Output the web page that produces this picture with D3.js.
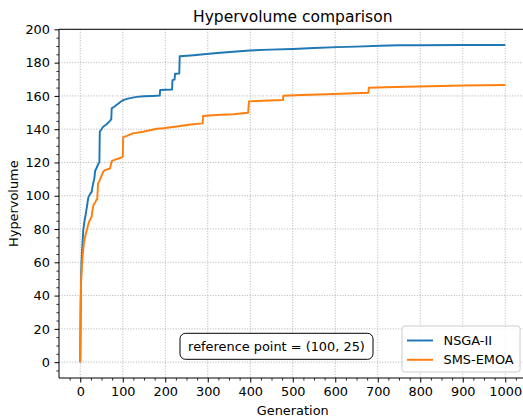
<!DOCTYPE html>
<html>
<head>
<meta charset="utf-8">
<script src="https://cdn.jsdelivr.net/npm/d3@7"></script>
<style>
  html, body { margin: 0; padding: 0; background: #fff; }
  svg { display: block; font-family: "DejaVu Sans", sans-serif; }
</style>
</head>
<body>
<svg id="chart" width="523" height="418"></svg>
<script>
// ---------------- data ----------------
const title = "Hypervolume comparison";
const xLabel = "Generation";
const yLabel = "Hypervolume";
const seriesNames = ["NSGA-II", "SMS-EMOA"];
const seriesColors = ["#1f77b4", "#ff7f0e"];
const annotationText = "reference point = (100, 25)";

const xTicks = [0, 100, 200, 300, 400, 500, 600, 700, 800, 900, 1000];
const yTicks = [0, 20, 40, 60, 80, 100, 120, 140, 160, 180, 200];

const nsgaGen = [0, 1, 2, 3, 5, 7, 10, 13, 16, 19, 23, 27, 30, 33, 35, 39, 42, 45, 46, 50, 54, 62, 70, 73, 74, 80, 85, 90, 95, 101, 110, 120, 133, 150, 170, 187, 188, 216, 217, 222, 223, 233, 234, 260, 297, 330, 360, 399, 446, 500, 550, 604, 650, 705, 750, 799, 900, 1000];
const nsgaHV = [0, 35, 50, 60, 70, 79, 85, 89, 94, 99, 101, 102.5, 107, 110, 115, 117, 119, 120, 138.5, 140, 141.5, 143, 145, 146, 152.5, 153.5, 154.5, 155.5, 156.5, 157.5, 158.2, 158.8, 159.4, 159.8, 160, 160.2, 163.5, 163.8, 169.5, 169.8, 173.3, 173.5, 183.8, 184.3, 185.2, 185.9, 186.5, 187.3, 187.8, 188.2, 188.8, 189.3, 189.6, 190.1, 190.4, 190.5, 190.6, 190.6];

const smsGen = [0, 1, 2, 4, 6, 8, 11, 15, 18, 21, 25, 27, 28, 31, 35, 38, 40, 42, 46, 50, 54, 58, 70, 74, 85, 93, 100, 101, 110, 124, 148, 180, 195, 235, 260, 288, 289, 320, 360, 395, 397, 430, 477, 478, 520, 580, 630, 678, 679, 720, 768, 850, 901, 1000];
const smsHV = [0, 30, 49, 58, 65, 70, 75, 79, 82, 84.5, 86.5, 87.5, 90, 94.4, 96, 97.4, 98, 107.4, 109.4, 112, 114.4, 115.4, 116.4, 120.8, 122, 122.5, 123.5, 135.2, 136, 137.5, 138.5, 140.3, 140.6, 141.9, 142.8, 143.5, 147.9, 148.5, 149, 149.9, 156.7, 157.1, 157.5, 160.1, 160.5, 161, 161.4, 161.9, 164.9, 165.2, 165.5, 166, 166.3, 166.5];

// ---------------- layout ----------------
const svg = d3.select("#chart");
const L = 59, R = 526.5, T = 29.3, B = 378;
const fs = 12.9;

const x = d3.scaleLinear().domain([-50, 1050]).range([L, R]);
const y = d3.scaleLinear().domain([-9.53, 200.03]).range([B, T]);

svg.append("defs").append("clipPath").attr("id", "clip")
  .append("rect").attr("x", L).attr("y", T).attr("width", R - L).attr("height", B - T);

// grid
const grid = svg.append("g");
grid.selectAll("line.gx").data(xTicks).enter().append("line")
  .attr("x1", d => x(d)).attr("x2", d => x(d)).attr("y1", T).attr("y2", B)
  .attr("stroke", "#b0b0b0").attr("stroke-width", 1).attr("stroke-dasharray", "1,1.65");
grid.selectAll("line.gy").data(yTicks).enter().append("line")
  .attr("x1", L).attr("x2", R).attr("y1", d => y(d)).attr("y2", d => y(d))
  .attr("stroke", "#b0b0b0").attr("stroke-width", 1).attr("stroke-dasharray", "1,1.65");

// lines
const series = [
  nsgaGen.map((g, i) => [g, nsgaHV[i]]),
  smsGen.map((g, i) => [g, smsHV[i]])
];
const line = d3.line().x(d => x(d[0])).y(d => y(d[1]));
const plot = svg.append("g").attr("clip-path", "url(#clip)");
series.forEach((s, i) => {
  plot.append("path").datum(s).attr("d", line)
    .attr("fill", "none").attr("stroke", seriesColors[i])
    .attr("stroke-width", 1.94).attr("stroke-linejoin", "round");
});

// axes
const xMinor = d3.range(-25, 1050, 25).filter(v => v % 100 !== 0);
const yMinor = d3.range(-5, 201, 5).filter(v => v % 20 !== 0);

const xAxis = svg.append("g").attr("transform", `translate(0,${B})`)
  .call(d3.axisBottom(x).tickValues(xTicks).tickSize(4.5).tickPadding(4.5).tickFormat(d3.format("d")));
const xAxisMinor = svg.append("g").attr("transform", `translate(0,${B})`)
  .call(d3.axisBottom(x).tickValues(xMinor).tickSize(2.6).tickFormat(""));
const yAxis = svg.append("g").attr("transform", `translate(${L},0)`)
  .call(d3.axisLeft(y).tickValues(yTicks).tickSize(4.5).tickPadding(4.5).tickFormat(d3.format("d")));
const yAxisMinor = svg.append("g").attr("transform", `translate(${L},0)`)
  .call(d3.axisLeft(y).tickValues(yMinor).tickSize(2.6).tickFormat(""));

[xAxis, xAxisMinor, yAxis, yAxisMinor].forEach(a => {
  a.select(".domain").remove();
  a.selectAll("text").attr("font-family", "DejaVu Sans").attr("font-size", fs).attr("fill", "#000");
  a.selectAll("line").attr("stroke", "#000");
});
xAxis.selectAll("line").attr("stroke-width", 1);
yAxis.selectAll("line").attr("stroke-width", 1);
xAxisMinor.selectAll("line").attr("stroke-width", 0.8);
yAxisMinor.selectAll("line").attr("stroke-width", 0.8);

// spines
svg.append("line").attr("x1", L).attr("x2", L).attr("y1", T).attr("y2", B).attr("stroke", "#000").attr("stroke-width", 1);
svg.append("line").attr("x1", L).attr("x2", R).attr("y1", T).attr("y2", T).attr("stroke", "#000").attr("stroke-width", 1);
svg.append("line").attr("x1", L).attr("x2", R).attr("y1", B).attr("y2", B).attr("stroke", "#000").attr("stroke-width", 1);
svg.append("line").attr("x1", R).attr("x2", R).attr("y1", T).attr("y2", B).attr("stroke", "#000").attr("stroke-width", 1);

// title & labels
svg.append("text").attr("x", (L + R) / 2).attr("y", 21.6).attr("text-anchor", "middle")
  .attr("font-size", 15.5).text(title);
svg.append("text").attr("x", (L + R) / 2).attr("y", 414.5).attr("text-anchor", "middle")
  .attr("font-size", fs).text(xLabel);
svg.append("text").attr("transform", `translate(17.5,${(T + B) / 2}) rotate(-90)`)
  .attr("text-anchor", "middle").attr("font-size", fs).text(yLabel);

// annotation box
const ax = 276.5, ay = 346.3;
svg.append("rect").attr("x", 180).attr("y", 333.3).attr("width", 193).attr("height", 26)
  .attr("rx", 5.5).attr("ry", 5.5).attr("fill", "#fff").attr("stroke", "#000").attr("stroke-width", 1);
svg.append("text").attr("x", ax).attr("y", ay + 4.6).attr("text-anchor", "middle")
  .attr("font-size", fs).text(annotationText);

// legend
const lg = svg.append("g");
lg.append("rect").attr("x", 402).attr("y", 326).attr("width", 118).attr("height", 46)
  .attr("rx", 2.5).attr("ry", 2.5).attr("fill", "#fff").attr("fill-opacity", 0.8)
  .attr("stroke", "#cccccc").attr("stroke-width", 1);
const rowY = [340.5, 359.8];
seriesNames.forEach((n, i) => {
  lg.append("line").attr("x1", 407).attr("x2", 433).attr("y1", rowY[i]).attr("y2", rowY[i])
    .attr("stroke", seriesColors[i]).attr("stroke-width", 1.94);
  lg.append("text").attr("x", 443.5).attr("y", rowY[i] + 4.6).attr("font-size", fs).text(n);
});
</script>
</body>
</html>
